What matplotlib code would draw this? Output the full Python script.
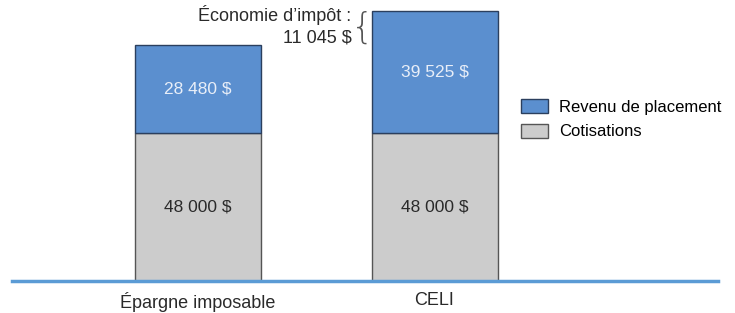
import matplotlib
matplotlib.use('Agg')
import matplotlib.pyplot as plt
import numpy as np

plt.rcParams['font.family'] = ['Liberation Sans', 'DejaVu Sans']

categories = ['Épargne imposable', 'CELI']
cotisations = [48000, 48000]
revenu = [28480, 39525]
cot_labels = ['48 000 $', '48 000 $']
rev_labels = ['28 480 $', '39 525 $']
economie_label = 'Économie d\u2019impôt :\n11 045 $'

blue = '#5b8fcf'
gray = '#cccccc'
txt = '#2a2a2a'

fig = plt.figure(figsize=(7.35, 3.13), dpi=100)
ax = fig.add_axes([12/735, 32/313, 706/735, 281/313])

x = np.arange(len(categories))
w = 126/236.5
ax.bar(x, cotisations, w, color=gray, edgecolor='#555555', linewidth=1, label='Cotisations')
ax.bar(x, revenu, w, bottom=cotisations, color=blue, edgecolor='#2b3f5e', linewidth=1,
       label='Revenu de placement')

for i in range(len(x)):
    ax.text(x[i], cotisations[i]/2, cot_labels[i], ha='center', va='center', fontsize=12.5, color=txt)
    ax.text(x[i], cotisations[i] + revenu[i]/2, rev_labels[i], ha='center', va='center',
            fontsize=12.5, color='#e8eef8')

# tax-savings note next to the CELI bar
top1 = cotisations[0] + revenu[0]
top2 = cotisations[1] + revenu[1]
ax.text(x[1] - w/2 - 0.085, (top1 + top2)/2 + 800, economie_label, ha='right', va='center',
        fontsize=13, color=txt, linespacing=1.3)
ax.text(x[1] - w/2 - 0.04, (top1 + top2)/2, '{', ha='center', va='center',
        fontsize=26, color='#555555', fontweight='light', family='DejaVu Sans')

ax.set_xlim(-186/236.5, 520/236.5)
ax.set_ylim(0, 281*324.3)
ax.set_xticks(x)
ax.set_xticklabels(categories, fontsize=13, color=txt)
ax.tick_params(axis='x', length=0, pad=8)
ax.set_yticks([])
for s in ['top', 'left', 'right']:
    ax.spines[s].set_visible(False)
ax.spines['bottom'].set_color('#5b9bd5')
ax.spines['bottom'].set_linewidth(2.5)

h, l = ax.get_legend_handles_labels()
ax.legend(h[::-1], l[::-1], loc='upper left', bbox_to_anchor=(506/735, 1 - 84/313),
          bbox_transform=fig.transFigure, frameon=False, fontsize=12,
          handlelength=1.6, handleheight=0.9, handletextpad=0.7, labelspacing=0.55)

fig.savefig('out.png', dpi=100)
